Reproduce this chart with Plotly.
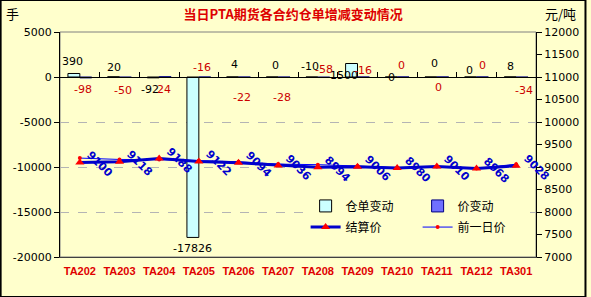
import plotly.graph_objects as go

# ---------------- data ----------------
contracts = ["TA202", "TA203", "TA204", "TA205", "TA206", "TA207",
             "TA208", "TA209", "TA210", "TA211", "TA212", "TA301"]
receipt_change = [390, 20, -92, -17826, 4, 0, -10, 1500, 0, 0, 0, 8]
price_change = [-98, -50, 24, -16, -22, -28, -58, -16, 0, 0, 0, -34]
settle_price = [9100, 9118, 9188, 9122, 9094, 9036, 8994, 9006, 8980, 9010, 8968, 9028]
prev_price = [9198, 9168, 9164, 9138, 9116, 9064, 9052, 9022, 8980, 9010, 8968, 9062]
left_ticks = [5000, 0, -5000, -10000, -15000, -20000]
right_ticks = [12000, 11500, 11000, 10500, 10000, 9500, 9000, 8500, 8000, 7500, 7000]

# ---------------- label placement (pixels) ----------------
rc_dx = [-1, 0, -3, 0, 2, 3, -2, -8, 0, 4, -1, 0]
rc_dy = [12, 9, -12, -11, 12, 12, 11, -12, 0, 14, 7, 10]
pc_dx = [-3, -3, -1, -3, -3, -2, 0, -1, -2, -4, 0, 2]
pc_dy = [-12, -13, -13, 10, -20, -20, 8, 7, 12, -10, 12, -13]

BG = "#FFFFCC"
FONT = "DejaVu Sans"

fig = go.Figure()

fig.add_trace(go.Bar(
    x=contracts, y=receipt_change, name="仓单变动",
    marker=dict(color="#CCFFFF", line=dict(color="#000000", width=1)),
    legend="legend", xaxis="x", yaxis="y"))
fig.add_trace(go.Bar(
    x=contracts, y=price_change, name="价变动",
    marker=dict(color="#7070FF", line=dict(color="#000080", width=1)),
    legend="legend", xaxis="x", yaxis="y"))
fig.add_trace(go.Scatter(
    x=contracts, y=prev_price, name="前一日价", mode="lines+markers",
    line=dict(color="#0000FF", width=1),
    marker=dict(color="#FF0000", size=4, symbol="circle"),
    legend="legend2", xaxis="x", yaxis="y2"))
fig.add_trace(go.Scatter(
    x=contracts, y=settle_price, name="结算价", mode="lines+markers",
    line=dict(color="#0000CC", width=3),
    marker=dict(color="#FF0000", size=8, symbol="triangle-up"),
    legend="legend2", xaxis="x", yaxis="y2"))
# invisible helper trace for the category axis drawn at zero
fig.add_trace(go.Scatter(
    x=contracts, y=[None] * len(contracts), mode="lines", showlegend=False,
    hoverinfo="skip", xaxis="x2", yaxis="y"))

ann = []
for i, c in enumerate(contracts):
    ann.append(dict(x=c, xref="x", y=receipt_change[i], yref="y",
                    text=str(receipt_change[i]), showarrow=False,
                    xshift=-6 + rc_dx[i], yshift=rc_dy[i],
                    font=dict(family=FONT, size=11, color="#000000")))
    ann.append(dict(x=c, xref="x", y=price_change[i], yref="y",
                    text=str(price_change[i]), showarrow=False,
                    xshift=6 + pc_dx[i], yshift=pc_dy[i],
                    font=dict(family=FONT, size=11, color="#CC0000")))
    ann.append(dict(x=c, xref="x", y=settle_price[i], yref="y2",
                    text=str(settle_price[i]), showarrow=False, textangle=45,
                    xshift=20, yshift=-2,
                    font=dict(family=FONT, size=11, color="#0000CC", weight="bold")))

ann.append(dict(x=(12 - 60) / 481, xref="paper", y=(257 - 14) / 225, yref="paper",
                text="手", showarrow=False, xanchor="center", yanchor="middle",
                font=dict(family="Noto Sans CJK SC", size=13, color="#000000")))
ann.append(dict(x=(566 - 60) / 481, xref="paper", y=(257 - 14) / 225, yref="paper",
                text="元/吨", showarrow=False, xanchor="center", yanchor="middle",
                font=dict(family="Noto Sans CJK SC", size=13, color="#000000")))

fig.update_layout(
    width=591, height=297,
    margin=dict(l=60, r=50, t=32, b=40),
    paper_bgcolor=BG, plot_bgcolor=BG,
    barmode="group", bargap=0.4, bargroupgap=0,
    title=dict(text="<b>当日PTA期货各合约仓单增减变动情况</b>",
               x=0.496, xanchor="center", y=0.953, yanchor="middle",
               font=dict(family="Noto Sans CJK SC", size=13, color="#DD0000")),
    xaxis=dict(type="category", categoryarray=contracts, range=[-0.5, 11.5],
               showline=True, linecolor="#404040", linewidth=1,
               ticks="", showgrid=False, zeroline=False, ticklabelstandoff=4,
               tickfont=dict(family="Liberation Sans", size=11, color="#E00000", weight="bold")),
    xaxis2=dict(type="category", categoryarray=contracts, range=[-0.5, 11.5],
                overlaying="x", anchor="free", position=0.8, side="bottom",
                showline=True, linecolor="#000000", linewidth=1,
                ticks="inside", tickson="boundaries", ticklen=5, tickcolor="#000000",
                showticklabels=False, showgrid=False, zeroline=False),
    yaxis=dict(range=[-20000, 5000], tickmode="array", tickvals=left_ticks,
               ticktext=[str(v) for v in left_ticks],
               showline=True, linecolor="#000000", linewidth=1,
               ticks="outside", ticklen=5, tickcolor="#000000",
               showgrid=True, gridcolor="#B4B4B4", griddash="dash", gridwidth=1,
               zeroline=False,
               tickfont=dict(family=FONT, size=11, color="#000000")),
    yaxis2=dict(range=[7000, 12000], tickmode="array", tickvals=right_ticks,
                ticktext=[str(v) for v in right_ticks],
                overlaying="y", side="right",
                showline=True, linecolor="#000000", linewidth=1,
                ticks="outside", ticklen=5, tickcolor="#000000",
                showgrid=False, zeroline=False,
                tickfont=dict(family=FONT, size=11, color="#000000")),
    legend=dict(orientation="h", x=0.516, xanchor="left", y=0.227, yanchor="middle",
                bgcolor=BG, borderwidth=0, entrywidth=67, traceorder="normal",
                font=dict(family="Noto Sans CJK SC", size=12, color="#000000")),
    legend2=dict(orientation="h", x=0.516, xanchor="left", y=0.133, yanchor="middle",
                 bgcolor=BG, borderwidth=0, entrywidth=67, traceorder="reversed",
                 font=dict(family="Noto Sans CJK SC", size=12, color="#000000")),
    annotations=ann,
    shapes=[
        dict(type="rect", xref="paper", yref="paper", x0=0, x1=1, y0=0, y1=1,
             line=dict(color="#808080", width=1), layer="below"),
        dict(type="rect", xref="paper", yref="paper",
             x0=-60 / 481, x1=1 + 50 / 481, y0=-40 / 225, y1=1 + 32 / 225,
             line=dict(color="#000000", width=2)),
    ],
    showlegend=True,
)

fig.write_html("out.html")
